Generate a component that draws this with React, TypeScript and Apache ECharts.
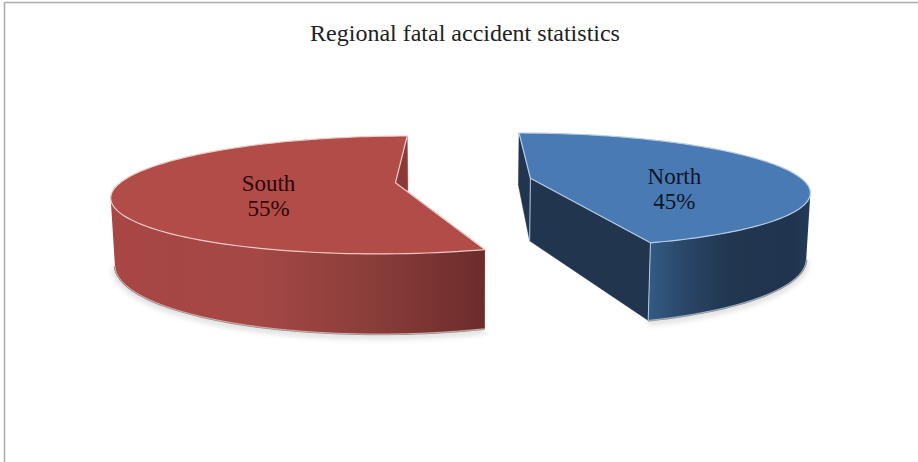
import React, { useEffect, useRef } from "react";
import * as echarts from "echarts";

const titleText = "Regional fatal accident statistics";
const categories = ["North", "South"];
const shares = [45, 55];

const palette: Record<string, any> = {
  North: {
    top: "#4a7ab4",
    edge: "#b4cde8",
    inner: "#21354f",
    stops: [[0, "#335a82"], [0.22, "#294667"], [0.5, "#21364f"], [0.9, "#20344f"], [1, "#233c5a"]],
    label: "#0b1626",
    labelDx: 144,
    labelDy: 11,
  },
  South: {
    top: "#b24c49",
    edge: "#efc9c5",
    inner: "#8a3b39",
    stops: [[0, "#a84644"], [0.4, "#a44745"], [0.7, "#8a3d3a"], [1, "#6c2c2b"]],
    label: "#2a0706",
    labelDx: -127,
    labelDy: 13,
  },
};

const VIEW_CX = 463.5;
const VIEW_Y = 180.5;
const R = 273;
const PERSP = 0.206;
const TILT = 0.2033;
const DEPTH = 63;
const BASE_SHRINK = 0.988;
const EXPLODE = 68.3;

function project(x: number, z: number, lower: boolean): number[] {
  const w = 1 / (1 - (PERSP * z) / R);
  return [
    VIEW_CX + x * w * (lower ? BASE_SHRINK : 1),
    VIEW_Y + z * TILT * w + (lower ? DEPTH * w : 0),
  ];
}

function renderSlice(params: any, api: any) {
  const i = params.dataIndex;
  const name = categories[i];
  const total = shares.reduce((a, b) => a + b, 0);
  const before = shares.slice(0, i).reduce((a, b) => a + b, 0);
  const a0 = (before / total) * Math.PI * 2;
  const a1 = ((before + api.value(0)) / total) * Math.PI * 2;
  const mid = (a0 + a1) / 2;
  const ox = EXPLODE * Math.sin(mid);
  const oz = -EXPLODE * Math.cos(mid);
  const pal = palette[name];

  const top: number[][] = [];
  const bottom: number[][] = [];
  const N = 120;
  for (let k = 0; k <= N; k++) {
    const a = a0 + ((a1 - a0) * k) / N;
    const x = ox + R * Math.sin(a);
    const z = oz - R * Math.cos(a);
    top.push(project(x, z, false));
    bottom.push(project(x, z, true));
  }
  const apexT = project(ox, oz, false);
  const apexB = project(ox, oz, true);
  const first = top[0];
  const last = top[N];
  const firstB = bottom[0];
  const lastB = bottom[N];
  const xs = top.map((p) => p[0]);
  const onRight = Math.sin(mid) > 0;
  const extremeX = onRight ? Math.max(...xs) : Math.min(...xs);
  const sil = xs.indexOf(extremeX);

  // the rim wall is seen only between the silhouette tangent and the slice's front end
  const rimTop = onRight ? top.slice(sil) : top.slice(0, sil + 1);
  const rimBot = onRight ? bottom.slice(sil) : bottom.slice(0, sil + 1);
  const frontX = onRight ? last[0] : first[0];
  const gx0 = onRight ? frontX : extremeX;
  const gx1 = onRight ? extremeX : frontX;
  const wallFill = new echarts.graphic.LinearGradient(
    gx0, 0, gx1, 0,
    pal.stops.map((s: any) => ({ offset: s[0], color: s[1] })),
    true,
  );
  const wallPoints = rimTop.concat(rimBot.slice().reverse());

  const label = `${name}\n${api.value(0)}%`;

  const children: any[] = [
    {
      type: "polyline",
      shape: { points: rimBot },
      style: { fill: "none", stroke: "rgba(120,120,120,0.8)", lineWidth: 2.5, shadowBlur: 6, shadowColor: "rgba(0,0,0,0.4)", shadowOffsetY: 2 },
      silent: true,
    },
    {
      type: "polygon",
      shape: { points: [first, firstB, apexB, apexT] },
      style: { fill: pal.inner, stroke: pal.inner, lineWidth: 0.5 },
    },
    {
      type: "polygon",
      shape: { points: [apexT, apexB, lastB, last] },
      style: { fill: pal.inner, stroke: pal.inner, lineWidth: 0.5 },
    },
    {
      type: "polygon",
      shape: { points: wallPoints },
      style: { fill: wallFill },
    },
    {
      type: "polyline",
      shape: { points: rimBot },
      style: { fill: "none", stroke: pal.edge, lineWidth: 1, opacity: 0.7 },
    },
    {
      type: "polygon",
      shape: { points: [apexT].concat(top) },
      style: { fill: pal.top, stroke: pal.edge, lineWidth: 1.2, lineJoin: "round" },
    },
  ];
  if (name === "North") {
    children.push(
      { type: "line", shape: { x1: apexT[0], y1: apexT[1], x2: apexB[0], y2: apexB[1] }, style: { stroke: pal.edge, lineWidth: 1 } },
      { type: "line", shape: { x1: last[0], y1: last[1], x2: lastB[0], y2: lastB[1] }, style: { stroke: pal.edge, lineWidth: 1 } },
    );
  }
  children.push({
    type: "text",
    x: apexT[0] + pal.labelDx,
    y: apexT[1] + pal.labelDy,
    style: {
      text: label,
      fill: pal.label,
      font: '23px "Liberation Serif"',
      lineHeight: 25,
      align: "center",
      verticalAlign: "middle",
    },
  });
  return { type: "group", children };
}

export default function App() {
  const ref = useRef<HTMLDivElement>(null);
  useEffect(() => {
    document.body.style.margin = "0";
    const chart = echarts.init(ref.current!, null, { renderer: "svg" });
    chart.setOption({
      animation: false,
      backgroundColor: "#ffffff",
      title: {
        text: titleText,
        left: 460,
        top: 16,
        textAlign: "center",
        textStyle: { fontFamily: "Liberation Serif", fontSize: 24, fontWeight: "normal", color: "#222222" },
      },
      graphic: [
        { type: "line", shape: { x1: 4.5, y1: 2.5, x2: 918, y2: 2.5 }, style: { stroke: "#a9a9ae", lineWidth: 1.5 } },
        { type: "line", shape: { x1: 4.5, y1: 2.5, x2: 4.5, y2: 462 }, style: { stroke: "#a9a9ae", lineWidth: 1.5 } },
      ],
      series: [
        {
          type: "custom",
          coordinateSystem: "none",
          renderItem: renderSlice,
          data: shares.map((v, i) => ({ name: categories[i], value: [v] })),
        },
      ],
    });
    return () => chart.dispose();
  }, []);
  return <div ref={ref} style={{ width: 918, height: 462 }} />;
}
